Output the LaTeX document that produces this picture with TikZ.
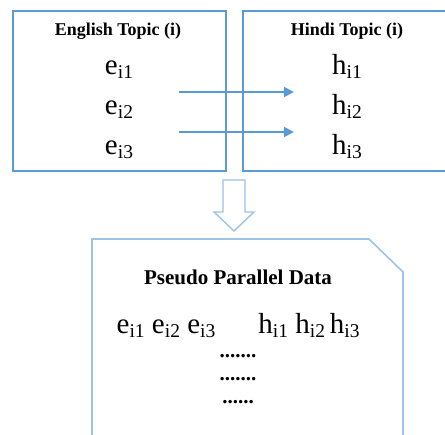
\documentclass[tikz,border=0pt]{standalone}
\usepackage{fontspec}
\setmainfont{Liberation Serif}
\usetikzlibrary{arrows.meta}
\definecolor{boxblue}{HTML}{5B9BD5}
\definecolor{paleblue}{HTML}{9DC3E6}
\tikzset{
    topic-box/.style = {draw=boxblue, line width=1.8pt, rectangle, inner sep=0pt, minimum width=213pt, minimum height=160pt},
    topic-title/.style = {font=\fontsize{18}{20}\selectfont\bfseries, anchor=base, inner sep=0pt},
    topic-word/.style = {font=\fontsize{29}{30}\selectfont, anchor=base, inner sep=0pt, text height=20pt, text depth=6pt},
    map-arrow/.style = {draw=boxblue, line width=1.8pt, -{Triangle[length=10pt,width=10pt]}},
    block-arrow/.style = {draw=paleblue, fill=white, line width=1.4pt, line join=miter},
    data-sheet/.style = {draw=paleblue, line width=1.6pt},
    data-title/.style = {font=\fontsize{21}{23}\selectfont\bfseries, anchor=base, inner sep=0pt},
    data-dots/.style = {font=\fontsize{21}{22}\selectfont\bfseries, anchor=base, inner sep=0pt},
}
\newcommand{\wsub}[2]{#1\raisebox{-3.5pt}{\fontsize{19.5}{20}\selectfont #2}}

\begin{document}
\begin{tikzpicture}[x=1pt, y=-1pt]
\useasboundingbox (0,0) rectangle (445,435);
\clip (0,0) rectangle (445,435);

\node [topic-box] (engbox) at (119.5,91) {};
\node [topic-box, minimum width=230pt] (hinbox) at (358,91) {};
\node [topic-title] (engtitle) at (118,36) {English Topic (i)};
\node [topic-title] (hintitle) at (347,36) {Hindi Topic (i)};

\node [topic-word] (ei1) at (119,75) {\wsub{e}{i1}};
\node [topic-word] (ei2) at (119,115) {\wsub{e}{i2}};
\node [topic-word] (ei3) at (119,155) {\wsub{e}{i3}};
\node [topic-word] (hi1) at (347,75) {\wsub{h}{i1}};
\node [topic-word] (hi2) at (347,115) {\wsub{h}{i2}};
\node [topic-word] (hi3) at (347,155) {\wsub{h}{i3}};

\draw [map-arrow] ([xshift=46pt, yshift=16pt]ei2.east) -- ([xshift=-38pt, yshift=16pt]hi2.west);
\draw [map-arrow] ([xshift=46pt, yshift=16pt]ei3.east) -- ([xshift=-38pt, yshift=16pt]hi3.west);

\draw [block-arrow] (223,180) -- (245,180) -- (245,212) -- (254,212) -- (234,231) -- (214,212) -- (223,212) -- cycle;

\draw [data-sheet] (92,445) -- (92,239) -- (369,239) -- (403,272) -- (403,445);
\node [data-title] (datatitle) at (238,285) {Pseudo Parallel Data};
\node [topic-word] (erow) at (166,334) {\wsub{e}{i1} \wsub{e}{i2} \wsub{e}{i3}};
\node [topic-word] (hrow) at (309,334) {\wsub{h}{i1} \wsub{h}{i2}\,\wsub{h}{i3}};
\node [data-dots] (dots1) at (238,358) {.......};
\node [data-dots] (dots2) at (238,381) {.......};
\node [data-dots] (dots3) at (238,404) {......};
\end{tikzpicture}
\end{document}
